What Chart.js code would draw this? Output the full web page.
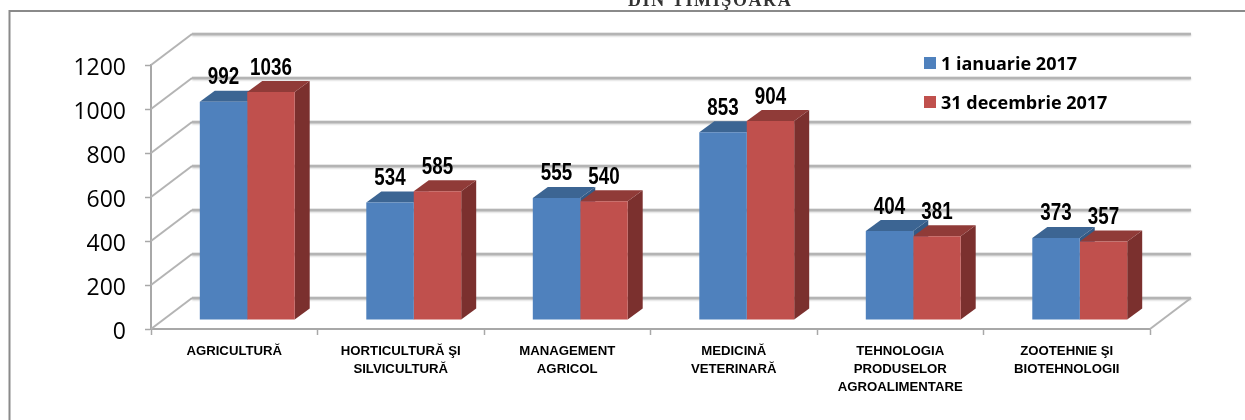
<!DOCTYPE html>
<html>
<head>
<meta charset="utf-8">
<style>html,body{margin:0;padding:0;background:#fff}#w{position:relative;width:1245px;height:420px}canvas{display:block}</style>
<script src="https://cdn.jsdelivr.net/npm/chart.js@4/dist/chart.umd.min.js"></script>
</head>
<body>
<div id="w"><canvas id="c" width="1245" height="420"></canvas></div>
<script>
const categories = [
  ['AGRICULTURĂ'],
  ['HORTICULTURĂ ŞI', 'SILVICULTURĂ'],
  ['MANAGEMENT', 'AGRICOL'],
  ['MEDICINĂ', 'VETERINARĂ'],
  ['TEHNOLOGIA', 'PRODUSELOR', 'AGROALIMENTARE'],
  ['ZOOTEHNIE ŞI', 'BIOTEHNOLOGII']
];
const ianuarie2017 = [992, 534, 555, 853, 404, 373];
const decembrie2017 = [1036, 585, 540, 904, 381, 357];
const seriesNames = ['1 ianuarie 2017', '31 decembrie 2017'];
const yTicks = [0, 200, 400, 600, 800, 1000, 1200];
const pageTitle = 'DIN TIMIŞOARA';

const front = ['#4f81bd', '#c0504d'];
const topFace = ['#3c6593', '#903b38'];
const sideFace = ['#345a85', '#7b302e'];
const WALL_DX = 41, WALL_DY = 31, BAR_DX = 13, BAR_DY = 9, SIDE_DX = 15, SIDE_DY = 11;
const GRID = '#b4b4b4';

function poly(ctx, pts, color) {
  ctx.fillStyle = color;
  ctx.beginPath();
  pts.forEach((p, i) => i ? ctx.lineTo(p[0], p[1]) : ctx.moveTo(p[0], p[1]));
  ctx.closePath();
  ctx.fill();
}

const scene = {
  id: 'scene',
  beforeDraw(chart) {
    const ctx = chart.ctx;
    ctx.save();
    ctx.fillStyle = '#fff';
    ctx.fillRect(0, 0, chart.width, chart.height);
    ctx.strokeStyle = '#8a8a8a';
    ctx.lineWidth = 2;
    ctx.beginPath();
    ctx.moveTo(9.5, 420);
    ctx.lineTo(9.5, 11);
    ctx.lineTo(1245, 11);
    ctx.stroke();
    ctx.font = 'bold 18px "Liberation Serif"';
    ctx.letterSpacing = '1.6px';
    ctx.fillStyle = '#333';
    ctx.textAlign = 'left';
    ctx.textBaseline = 'alphabetic';
    ctx.fillText(pageTitle, 628, 6);
    ctx.restore();
  },
  beforeDatasetsDraw(chart) {
    const ctx = chart.ctx, y = chart.scales.y, a = chart.chartArea;
    ctx.save();
    yTicks.forEach(v => {
      const py = y.getPixelForValue(v);
      ctx.strokeStyle = GRID;
      ctx.lineWidth = 2;
      ctx.beginPath();
      ctx.moveTo(a.left, py);
      ctx.lineTo(a.left + WALL_DX, py - WALL_DY);
      ctx.stroke();
      ctx.save();
      ctx.shadowColor = 'rgba(0,0,0,0.22)';
      ctx.shadowBlur = 2;
      ctx.shadowOffsetY = 1;
      ctx.lineWidth = 2.5;
      ctx.beginPath();
      ctx.moveTo(a.left + WALL_DX, py - WALL_DY);
      ctx.lineTo(a.right + WALL_DX, py - WALL_DY);
      ctx.stroke();
      ctx.restore();
    });
    const p0 = y.getPixelForValue(0);
    ctx.lineWidth = 2;
    ctx.beginPath();
    ctx.moveTo(a.right, p0);
    ctx.lineTo(a.right + WALL_DX, p0 - WALL_DY);
    ctx.stroke();
    ctx.translate(BAR_DX, -BAR_DY);
    const metas = [chart.getDatasetMeta(0), chart.getDatasetMeta(1)];
    categories.forEach((_, i) => {
      metas.forEach((m, s) => {
        const b = m.data[i];
        const l = b.x - b.width / 2, r = b.x + b.width / 2, t = b.y, base = b.base;
        poly(ctx, [[r, t], [r + SIDE_DX, t - SIDE_DY], [r + SIDE_DX, base - SIDE_DY], [r, base]], sideFace[s]);
        poly(ctx, [[l, t], [l + SIDE_DX, t - SIDE_DY], [r + SIDE_DX, t - SIDE_DY], [r, t]], topFace[s]);
      });
    });
  },
  afterDatasetsDraw(chart) {
    const ctx = chart.ctx;
    [0, 1].forEach(s => {
      const m = chart.getDatasetMeta(s);
      const vals = chart.data.datasets[s].data;
      ctx.font = 'bold 23.5px "Liberation Sans"';
      ctx.fillStyle = '#000';
      ctx.textAlign = 'center';
      ctx.textBaseline = 'middle';
      m.data.forEach((b, i) => {
        ctx.save();
        ctx.translate(b.x, b.y - 24);
        ctx.scale(0.8, 1);
        ctx.fillText(String(vals[i]), 0, 0);
        ctx.restore();
      });
    });
    ctx.restore();
    ctx.save();
    const rows = [63, 102];
    seriesNames.forEach((n, s) => {
      ctx.fillStyle = front[s];
      ctx.fillRect(924, rows[s] - 6, 12, 12);
      ctx.fillStyle = '#000';
      ctx.font = 'bold 18px "Open Sans"';
      ctx.textAlign = 'left';
      ctx.textBaseline = 'middle';
      ctx.fillText(n, 941, rows[s] + 2);
    });
    ctx.restore();
  }
};

new Chart(document.getElementById('c'), {
  type: 'bar',
  data: {
    labels: categories,
    datasets: [
      { label: seriesNames[0], data: ianuarie2017, backgroundColor: front[0], clip: false, barPercentage: 1, categoryPercentage: 0.57 },
      { label: seriesNames[1], data: decembrie2017, backgroundColor: front[1], clip: false, barPercentage: 1, categoryPercentage: 0.57 }
    ]
  },
  options: {
    responsive: false,
    animation: false,
    layout: { padding: { left: 0, top: 65, right: 95, bottom: 0 } },
    plugins: { legend: { display: false }, title: { display: false }, tooltip: { enabled: false } },
    scales: {
      x: {
        afterFit(s) { s.height = 91; },
        border: { color: '#a8a8a8', width: 2 },
        grid: { drawOnChartArea: false, color: '#a8a8a8', tickLength: 6, tickWidth: 1.5 },
        ticks: { autoSkip: false, maxRotation: 0, minRotation: 0, color: '#000', padding: 7,
          font: { family: '"Liberation Sans"', weight: 'bold', size: 13.2, lineHeight: '18px' } }
      },
      y: {
        min: 0, max: 1200,
        afterFit(s) { s.width = 151; },
        border: { color: '#a8a8a8', width: 2 },
        grid: { drawOnChartArea: false, color: '#a8a8a8', tickLength: 6, tickWidth: 1.5 },
        afterBuildTicks(s) { s.ticks = yTicks.map(v => ({ value: v })); },
        ticks: { color: '#000', padding: 19, callback: v => ['', String(v)], font: { family: '"Open Sans"', size: 23, lineHeight: '7px' } }
      }
    }
  },
  plugins: [scene]
});
</script>
</body>
</html>
